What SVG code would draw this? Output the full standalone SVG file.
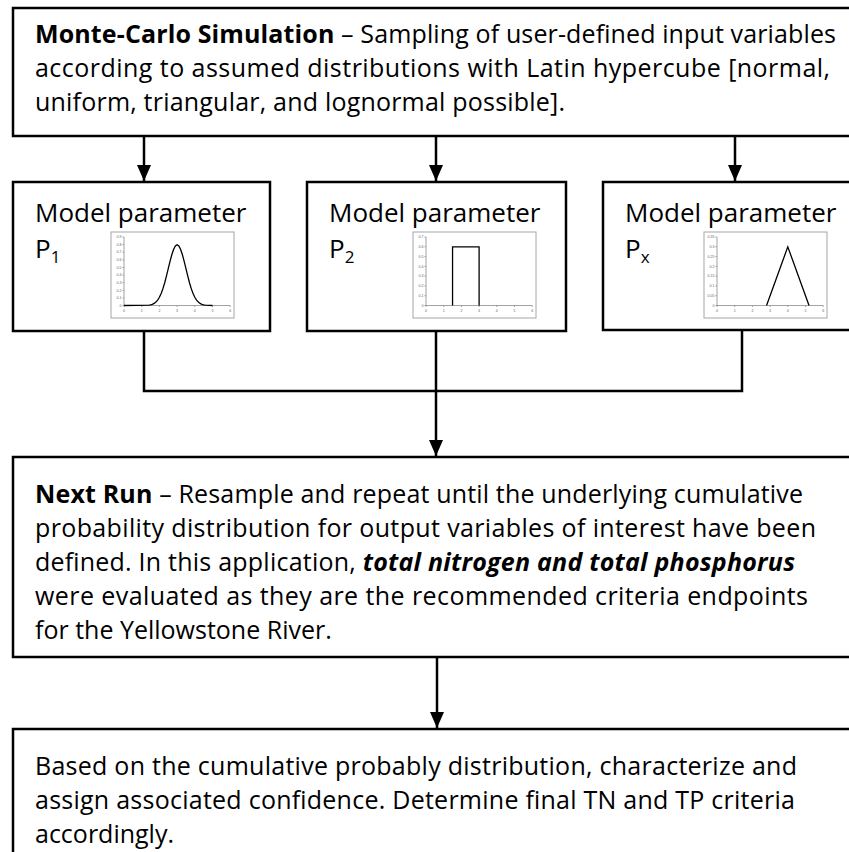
<svg xmlns="http://www.w3.org/2000/svg" width="849" height="852" viewBox="0 0 849 852">
<style>
.box{fill:#fff;stroke:#000;stroke-width:2.5}
.t{font-family:"Open Sans","Noto Sans","Liberation Sans",sans-serif;font-size:25px;fill:#000}
.m{font-size:26px}
.b{font-weight:bold}
.bi{font-weight:bold;font-style:italic}
.con{fill:none;stroke:#000;stroke-width:2.5}
.frame{fill:#fff;stroke:#a6a6a6;stroke-width:1}
.ax{fill:none;stroke:#8c8c8c;stroke-width:0.8}
.tl{font-family:"Liberation Sans",sans-serif;font-size:3.6px;fill:#666}
.cv{fill:none;stroke:#000;stroke-width:1.3}
</style>
<defs>
<marker id="ah" viewBox="0 0 16 14" refX="16" refY="7" markerWidth="16" markerHeight="14" markerUnits="userSpaceOnUse" orient="auto">
<path d="M0,0 L16,7 L0,14 z" fill="#000"/>
</marker>
<g id="yt9">
<path class="ax" d="M13 5 V73.5 M11.5 73.5 H13 M11.5 65.89 H13 M11.5 58.28 H13 M11.5 50.67 H13 M11.5 43.06 H13 M11.5 35.44 H13 M11.5 27.83 H13 M11.5 20.22 H13 M11.5 12.61 H13 M11.5 5 H13"/>
</g>
<g id="yt7">
<path class="ax" d="M13 5 V73.5 M11.5 73.5 H13 M11.5 63.71 H13 M11.5 53.93 H13 M11.5 44.14 H13 M11.5 34.36 H13 M11.5 24.57 H13 M11.5 14.79 H13 M11.5 5 H13"/>
</g>
<g id="xax">
<path class="ax" d="M13 73.5 H119.2 M13 73.5 V75 M30.7 73.5 V75 M48.4 73.5 V75 M66.1 73.5 V75 M83.8 73.5 V75 M101.5 73.5 V75 M119.2 73.5 V75"/>
<g class="tl" text-anchor="middle">
<text x="13" y="80">0</text><text x="30.7" y="80">1</text><text x="48.4" y="80">2</text><text x="66.1" y="80">3</text><text x="83.8" y="80">4</text><text x="101.5" y="80">5</text><text x="119.2" y="80">6</text>
</g>
</g>
</defs>

<g id="connectors">
<path class="con" d="M144 137 V181" marker-end="url(#ah)"/>
<path class="con" d="M436 137 V181" marker-end="url(#ah)"/>
<path class="con" d="M735 137 V181" marker-end="url(#ah)"/>
<path class="con" d="M144 331 V391 H742 V330"/>
<path class="con" d="M436 331 V456" marker-end="url(#ah)"/>
<path class="con" d="M437 658 V728" marker-end="url(#ah)"/>
</g>

<g id="monte-carlo">
<rect class="box" x="13" y="8" width="880" height="128"/>
<text class="t" x="35" y="43" textLength="801" lengthAdjust="spacing"><tspan class="b">Monte-Carlo Simulation</tspan> – Sampling of user-defined input variables</text>
<text class="t" x="35" y="77" textLength="795" lengthAdjust="spacing">according to assumed distributions with Latin hypercube [normal,</text>
<text class="t" x="35" y="111" textLength="530" lengthAdjust="spacing">uniform, triangular, and lognormal possible].</text>
</g>

<g id="param1">
<rect class="box" x="13" y="182" width="257" height="149"/>
<text class="t m" x="35" y="222">Model parameter</text>
<text class="t m" x="35" y="258">P<tspan font-size="17" dy="5">1</tspan></text>
<g transform="translate(111,232)">
<rect class="frame" x="0" y="0" width="123" height="86"/>
<use href="#yt9"/>
<use href="#xax"/>
<g class="tl" text-anchor="end">
<text x="10.5" y="74.7">0</text><text x="10.5" y="67.1">0.1</text><text x="10.5" y="59.5">0.2</text><text x="10.5" y="51.9">0.3</text><text x="10.5" y="44.3">0.4</text><text x="10.5" y="36.6">0.5</text><text x="10.5" y="29">0.6</text><text x="10.5" y="21.4">0.7</text><text x="10.5" y="13.8">0.8</text><text x="10.5" y="6.2">0.9</text>
</g>
<polyline class="cv" points="13,73.5 37.78,73.14 39.55,72.83 41.32,72.30 43.09,71.43 44.86,70.09 46.63,68.10 48.40,65.28 50.17,61.48 51.94,56.62 53.71,50.71 55.48,43.94 57.25,36.67 59.02,29.40 60.79,22.78 62.56,17.44 64.33,13.97 66.10,12.77 67.87,13.97 69.64,17.44 71.41,22.78 73.18,29.40 74.95,36.67 76.72,43.94 78.49,50.71 80.26,56.62 82.03,61.48 83.80,65.28 85.57,68.10 87.34,70.09 89.11,71.43 90.88,72.30 92.65,72.83 94.42,73.14 101.5,73.5"/>
</g>
</g>

<g id="param2">
<rect class="box" x="307" y="182" width="259" height="149"/>
<text class="t m" x="329" y="222">Model parameter</text>
<text class="t m" x="329" y="258">P<tspan font-size="17" dy="5">2</tspan></text>
<g transform="translate(413,232)">
<rect class="frame" x="0" y="0" width="123" height="86"/>
<use href="#yt7"/>
<use href="#xax"/>
<g class="tl" text-anchor="end">
<text x="10.5" y="74.7">0</text><text x="10.5" y="64.9">0.1</text><text x="10.5" y="55.1">0.2</text><text x="10.5" y="45.3">0.3</text><text x="10.5" y="35.6">0.4</text><text x="10.5" y="25.8">0.5</text><text x="10.5" y="16">0.6</text><text x="10.5" y="6.2">0.7</text>
</g>
<path class="cv" d="M39.55 73.5 V14.8 H66.1 V73.5"/>
</g>
</g>

<g id="paramx">
<rect class="box" x="603" y="182" width="280" height="148"/>
<text class="t m" x="625" y="222">Model parameter</text>
<text class="t m" x="625" y="258">P<tspan font-size="17" dy="5">x</tspan></text>
<g transform="translate(704,232)">
<rect class="frame" x="0" y="0" width="123" height="86"/>
<use href="#yt7"/>
<use href="#xax"/>
<g class="tl" text-anchor="end">
<text x="10.5" y="74.7">0</text><text x="10.5" y="64.9">0.05</text><text x="10.5" y="55.1">0.1</text><text x="10.5" y="45.3">0.15</text><text x="10.5" y="35.6">0.2</text><text x="10.5" y="25.8">0.25</text><text x="10.5" y="16">0.3</text><text x="10.5" y="6.2">0.35</text>
</g>
<path class="cv" d="M62.56 73.5 L83.8 14.8 L105.04 73.5"/>
</g>
</g>

<g id="next-run">
<rect class="box" x="13" y="457" width="880" height="200"/>
<text class="t" x="35" y="503" textLength="768" lengthAdjust="spacing"><tspan class="b">Next Run</tspan> – Resample and repeat until the underlying cumulative</text>
<text class="t" x="35" y="537" textLength="781" lengthAdjust="spacing">probability distribution for output variables of interest have been</text>
<text class="t" x="35" y="571" textLength="760" lengthAdjust="spacing">defined. In this application, <tspan class="bi">total nitrogen and total phosphorus</tspan></text>
<text class="t" x="35" y="605" textLength="773" lengthAdjust="spacing">were evaluated as they are the recommended criteria endpoints</text>
<text class="t" x="35" y="639">for the Yellowstone River.</text>
</g>

<g id="final">
<rect class="box" x="13" y="729" width="880" height="160"/>
<text class="t" x="35" y="775" textLength="762" lengthAdjust="spacing">Based on the cumulative probably distribution, characterize and</text>
<text class="t" x="35" y="809" textLength="760" lengthAdjust="spacing">assign associated confidence. Determine final TN and TP criteria</text>
<text class="t" x="35" y="843">accordingly.</text>
</g>
</svg>
